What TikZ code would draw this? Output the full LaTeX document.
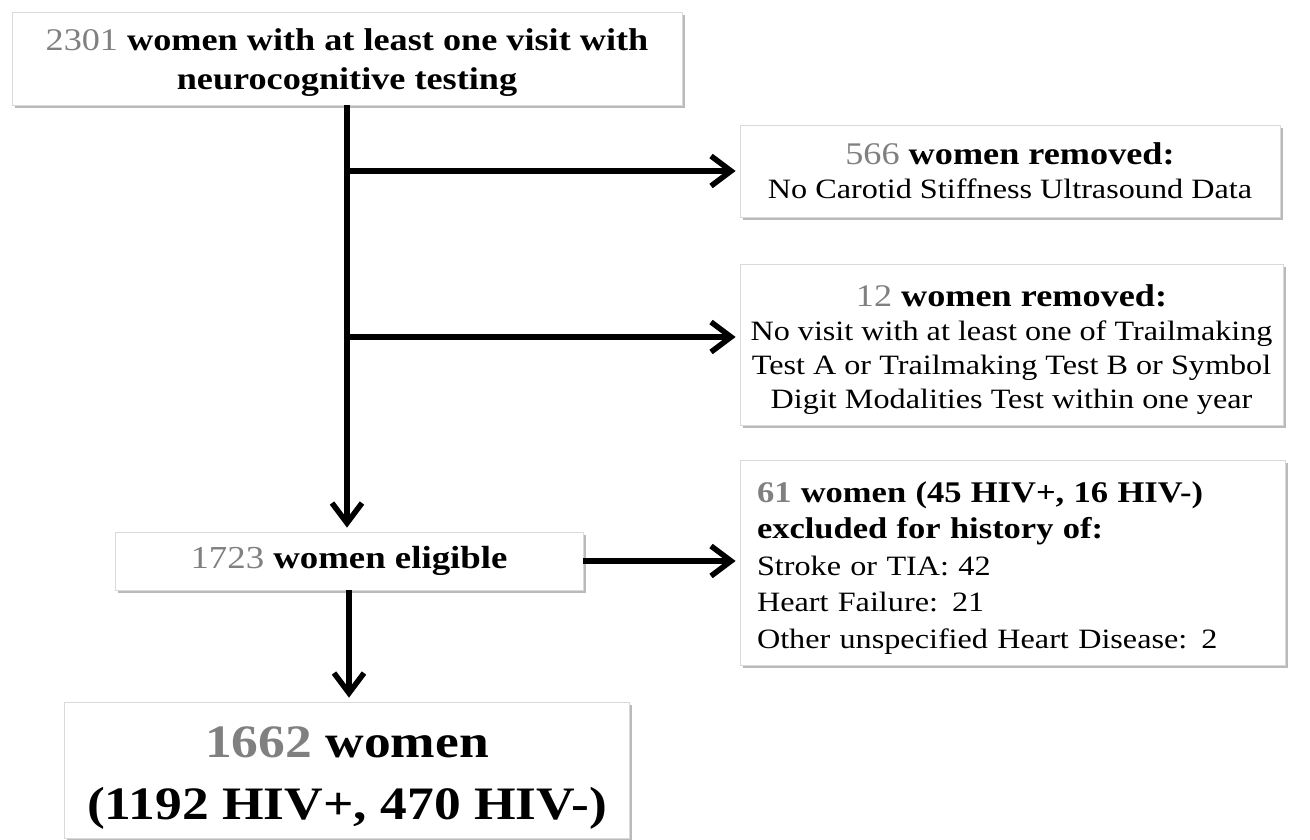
\documentclass[tikz,border=0pt]{standalone}
\usepackage{fontspec}
\setmainfont[FakeStretch=1.15]{Liberation Serif}
\usetikzlibrary{arrows.meta,shadows,calc}
\definecolor{numgray}{gray}{0.5}
\definecolor{boxline}{gray}{0.85}
\tikzset{
  box/.style={draw=boxline, line width=0.8pt, fill=white, inner sep=0pt, align=center,
    drop shadow={shadow xshift=2.5pt, shadow yshift=-3pt, opacity=0.45, fill=black!60}},
  arr/.style={line width=5.5pt, -{Straight Barb[length=20pt,width=30pt,line width=5.5pt]}, shorten >=4pt},
}
\newcommand{\gn}[1]{{\mdseries\color{numgray}#1}}
\newcommand{\gb}[1]{{\color{numgray}#1}}
\newcommand{\ttl}{\bfseries\fontsize{31.5}{36}\selectfont}
\newcommand{\ttlb}{\bfseries\fontsize{30}{36}\selectfont}
\newcommand{\up}[1]{\rule{0pt}{#1}}
\begin{document}
\begin{tikzpicture}[x=1pt,y=-1pt]
\useasboundingbox (0,0) rectangle (1310,840);
\node[box, minimum width=670pt, minimum height=93pt, font=\bfseries\fontsize{31.5}{38.5}\selectfont] (top) at (347,58.5)
  {\up{30pt}\gn{2301} women with at least one visit with\\ neurocognitive testing};
\node[box, minimum width=540pt, minimum height=92pt, font=\fontsize{28}{34}\selectfont] (rem1) at (1010,171)
  {{\ttl\gn{566} women removed:}\\
   No Carotid Stiffness Ultrasound Data};
\node[box, minimum width=543pt, minimum height=161pt, font=\fontsize{28}{34}\selectfont] (rem2) at (1011.5,344.5)
  {{\ttl\up{32pt}\gn{12} women removed:}\\
   No visit with at least one of Trailmaking\\
   Test A or Trailmaking Test B or Symbol\\
   Digit Modalities Test within one year};
\node[box, minimum width=468pt, minimum height=58pt, font=\bfseries\fontsize{32}{36}\selectfont] (elig) at (349,561)
  {\gn{1723} women eligible};
\node[box, minimum width=545pt, minimum height=205pt, align=left, text width=511pt, font=\fontsize{28}{36.5}\selectfont] (excl) at (1012.5,562.5)
  {{\ttlb\up{31pt}\gb{61} women (45 HIV+, 16 HIV-)}\\
   {\ttlb excluded for history of:}\\
   Stroke or TIA: 42\\
   Heart Failure: 21\\
   Other unspecified Heart Disease: 2};
\node[box, minimum width=565pt, minimum height=136pt, font=\bfseries\fontsize{46.5}{62}\selectfont] (final) at (347,770)
  {\up{47.5pt}\gb{1662} women\\ (1192 HIV+, 470 HIV-)};
\coordinate (j2) at (347,337);
\draw[arr] (top.south) -- (top.south |- elig.north);
\draw[arr] (top.south |- rem1.west) -- (rem1.west);
\draw[arr] (j2) -- (j2 -| rem2.west);
\draw[arr] (elig.east) -- (elig.east -| excl.west);
\draw[arr] (elig.south) -- (elig.south |- final.north);
\end{tikzpicture}
\end{document}
